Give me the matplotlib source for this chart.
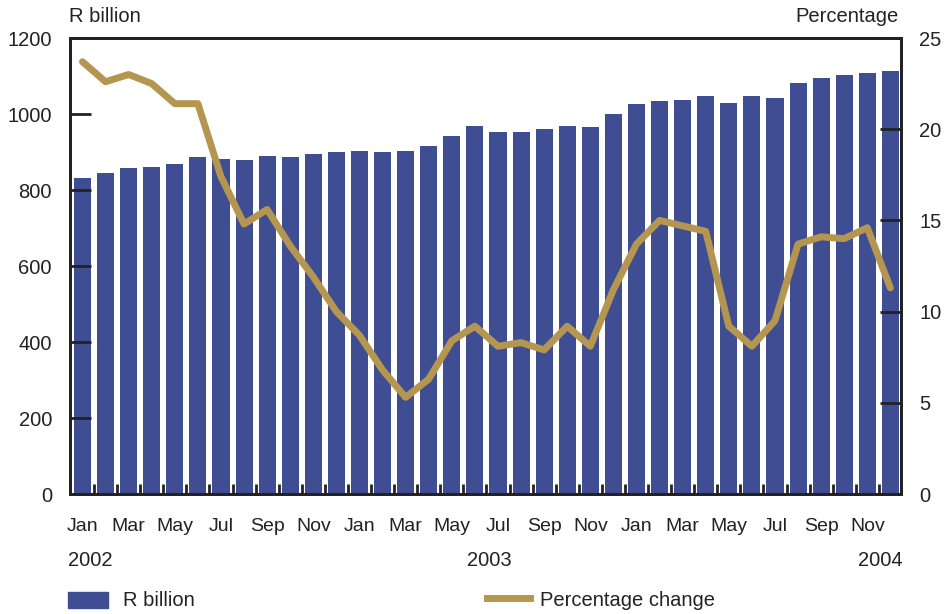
import matplotlib.pyplot as plt
import numpy as np

plt.rcParams['font.family'] = ['Liberation Sans', 'DejaVu Sans']

# Monthly values, Jan 2002 - Dec 2004
r_billion = [832, 846, 859, 861, 869, 888, 882, 880, 890, 888, 896, 901,
             903, 900, 903, 916, 942, 968, 953, 953, 960, 968, 966, 1000,
             1026, 1034, 1037, 1047, 1029, 1047, 1042, 1082, 1095, 1103, 1108, 1113]
pct_change = [23.7, 22.6, 23.0, 22.5, 21.4, 21.4, 17.4, 14.8, 15.6, 13.6, 11.9, 10.0,
              8.7, 6.8, 5.3, 6.3, 8.4, 9.2, 8.1, 8.3, 7.9, 9.2, 8.1, 11.2,
              13.7, 15.0, 14.7, 14.4, 9.2, 8.1, 9.5, 13.7, 14.1, 14.0, 14.6, 11.3]
month_labels = ["Jan", "Mar", "May", "Jul", "Sep", "Nov"] * 3
years = ["2002", "2003", "2004"]

bar_color = "#3f4d92"
line_color = "#b59651"
text_color = "#222222"

x = np.arange(len(r_billion))

fig = plt.figure(figsize=(9.44, 6.14), dpi=100)
ax = fig.add_axes([70 / 944, 1 - 494 / 614, 831 / 944, 456 / 614])
ax2 = ax.twinx()

ax.bar(x, r_billion, width=0.74, color=bar_color, zorder=1)
ax.set_axisbelow(False)
ax2.plot(x, pct_change, color=line_color, lw=5, solid_capstyle="round",
         solid_joinstyle="round", zorder=3)

ax.set_xlim(-0.54, 35.46)
ax.set_ylim(0, 1200)
ax2.set_ylim(0, 25)

ax.set_yticks(range(0, 1201, 200))
ax2.set_yticks(range(0, 26, 5))
ax.tick_params(axis="y", direction="in", length=15, width=2, color=text_color,
               labelsize=14.5, labelcolor=text_color, pad=13)
ax2.tick_params(axis="y", direction="in", length=15, width=2, color=text_color,
                labelsize=14.5, labelcolor=text_color, pad=13)

ax.set_xticks(x[::2])
ax.set_xticklabels(month_labels)
ax.set_xticks(x[:-1] + 0.5, minor=True)
ax.tick_params(axis="x", which="major", length=0, labelsize=14,
               labelcolor=text_color, pad=17)
ax.tick_params(axis="x", which="minor", direction="in", length=7, width=2,
               color=text_color)

for a in (ax, ax2):
    for s in a.spines.values():
        s.set_linewidth(2)
        s.set_color(text_color)

ax.set_zorder(ax2.get_zorder() - 1)
ax2.patch.set_visible(False)

# axis titles
fig.text(69 / 944, 1 - 17 / 614, "R billion", fontsize=14.5, color=text_color,
         ha="left", va="center")
fig.text(899 / 944, 1 - 17 / 614, "Percentage", fontsize=14.5, color=text_color,
         ha="right", va="center")

# year labels
fig.text(68 / 944, 1 - 561 / 614, years[0], fontsize=14.5, color=text_color,
         ha="left", va="center")
fig.text(489 / 944, 1 - 561 / 614, years[1], fontsize=14.5, color=text_color,
         ha="center", va="center")
fig.text(903 / 944, 1 - 561 / 614, years[2], fontsize=14.5, color=text_color,
         ha="right", va="center")

# legend
fig.patches.append(plt.Rectangle((68 / 944, 1 - 608 / 614), 40 / 944, 16 / 614,
                                 transform=fig.transFigure, color=bar_color))
fig.text(123 / 944, 1 - 601 / 614, "R billion", fontsize=14.5, color=text_color,
         ha="left", va="center")
fig.add_artist(plt.Line2D([487 / 944, 530 / 944], [1 - 598 / 614, 1 - 598 / 614],
                          transform=fig.transFigure, color=line_color, lw=5))
fig.text(540 / 944, 1 - 601 / 614, "Percentage change", fontsize=14.5,
         color=text_color, ha="left", va="center")

fig.savefig("out.png", dpi=100)
